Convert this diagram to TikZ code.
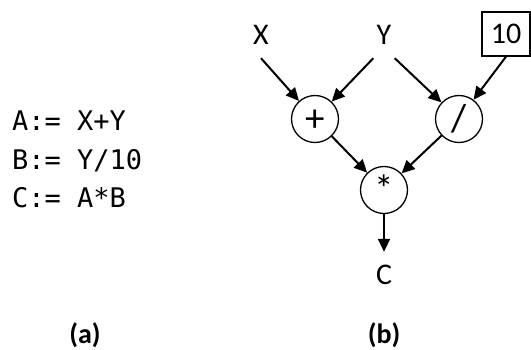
\documentclass[tikz,border=0pt]{standalone}
\usepackage{fontspec}
\setmainfont{Carlito}
\newfontfamily\codefont{DejaVu Sans Mono}
\usetikzlibrary{arrows.meta}

\begin{document}
\begin{tikzpicture}[x=1pt,y=1pt]
  \tikzstyle{op}=[circle,draw=black,line width=1.3pt,minimum size=47pt,inner sep=0pt,text height=24pt,text depth=0pt,font=\fontsize{39}{39}\selectfont]
  \tikzstyle{var}=[inner sep=0pt,minimum width=21pt,minimum height=46pt,font=\fontsize{30}{30}\selectfont]
  \tikzstyle{const}=[rectangle,draw=black,line width=1.3pt,minimum width=48pt,minimum height=44pt,inner sep=0pt,font=\fontsize{30}{30}\selectfont]
  \tikzstyle{flow}=[line width=2pt,-{Triangle[length=13pt,width=12pt]}]
  \tikzstyle{code}=[anchor=base west,inner sep=0pt,font=\codefont\fontsize{27}{27}\selectfont]
  \tikzstyle{caption}=[anchor=base,inner sep=0pt,font=\bfseries\fontsize{28}{28}\selectfont]

  \useasboundingbox (0,0) rectangle (531,349);

  % (a) the statements
  \begin{scope}
    \node[code](lineA) at (12,218.6){A:= X+Y};
    \node[code](lineB) at (12,179.7){B:= Y/10};
    \node[code](lineC) at (12,141.8){C:= A*B};
    \node[caption](capA) at (85,5.5){(a)};
  \end{scope}

  % (b) the data flow graph
  \begin{scope}
    \node[var](Y) at (384,314){Y};
    \node[var,left of=Y,node distance=123pt](X){X};
    \node[const](ten) at (506,315){10};
    \node[op](plus) at (315,230){+};
    \node[op,right of=plus,node distance=144pt](div){/};
    \node[op](times) at (384,159){*};
    \node[var,below of=times,node distance=85pt](C){C};
    \node[caption](capB) at (384,5.5){(b)};

    \path[flow]
    (X.south) edge (plus)
    (Y.south west) edge (plus)
    (Y.south east) edge (div)
    (ten.south) edge (div)
    (plus) edge (times)
    (div) edge (times)
    (times) edge (C);
  \end{scope}
\end{tikzpicture}
\end{document}
